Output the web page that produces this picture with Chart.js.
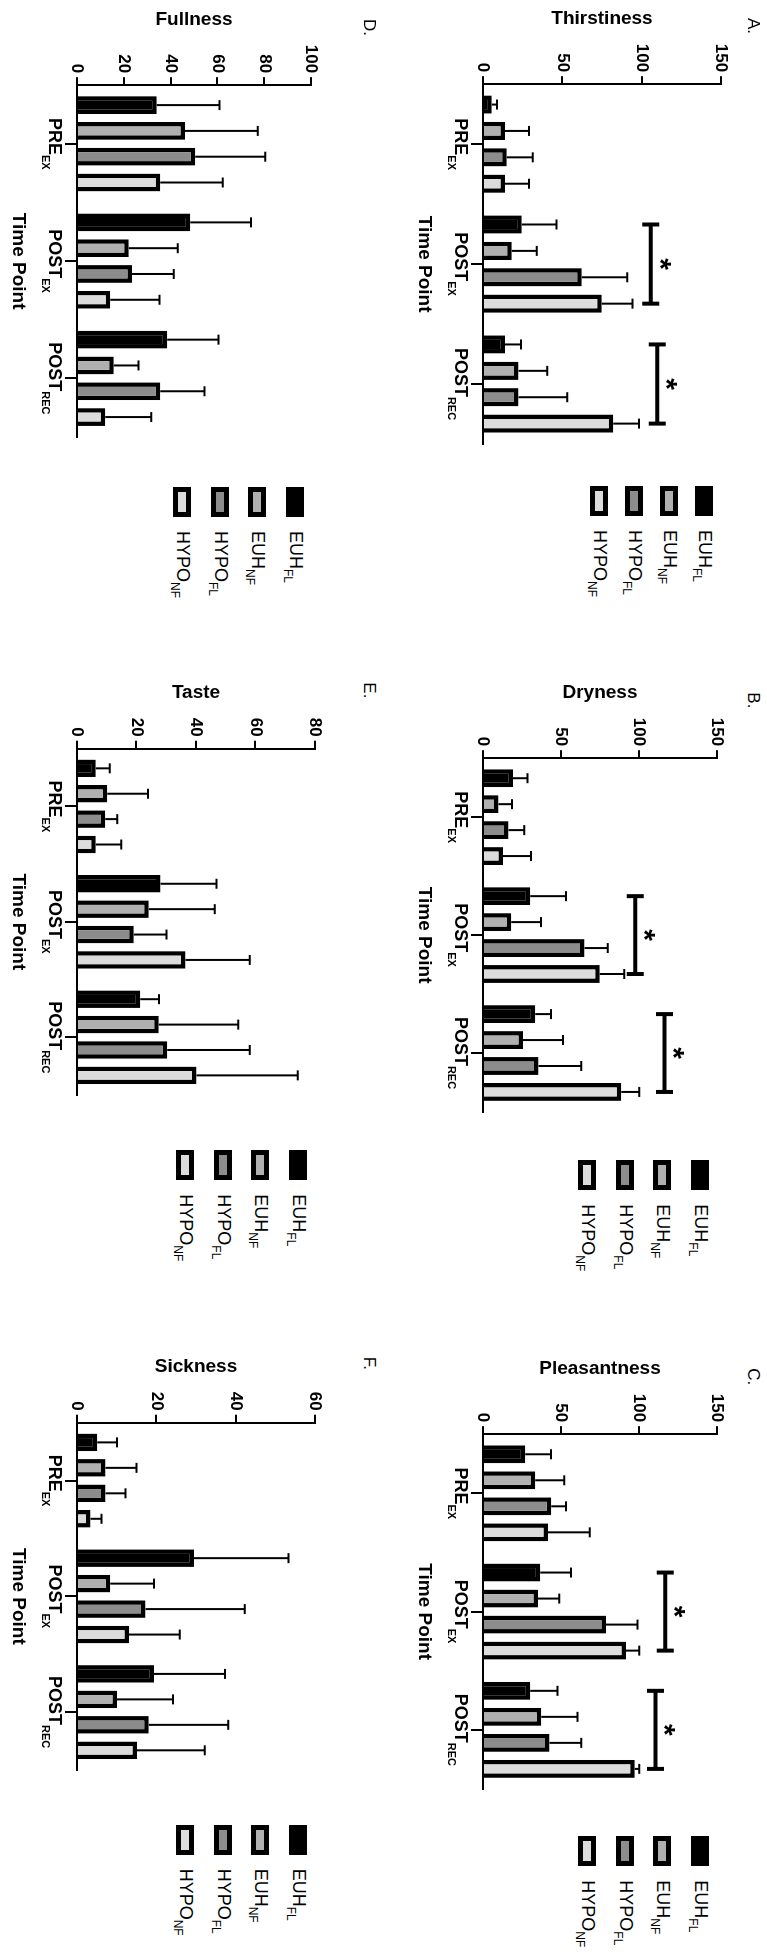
<!DOCTYPE html>
<html>
<head>
<meta charset="utf-8">
<script src="https://cdn.jsdelivr.net/npm/chart.js@4.4.0/dist/chart.umd.min.js"></script>
<style>
html, body { margin: 0; padding: 0; width: 767px; height: 1959px; overflow: hidden; background: #fff; }
#figure {
    position: absolute; left: 0; top: 0; width: 1959px; height: 767px;
    transform-origin: 0 0; transform: translate(767px, 0) rotate(90deg);
    font-family: 'Liberation Sans', Arial, Helvetica, sans-serif; color: #000;
}
#figure canvas { position: absolute; }
.legend { position: absolute; }
.legend .item { display: flex; align-items: center; }
.legend .swatch { width: 30px; height: 18px; border: 5px solid #000; box-sizing: border-box; margin-right: 14px; flex: none; }
.legend .label { font-size: 18px; line-height: 18px; white-space: nowrap; }
.legend .label span { font-size: 12px; position: relative; top: 6px; }
.letter { position: absolute; font-size: 17px; line-height: 17px; }
</style>
</head>
<body>
<div id="figure"></div>
<script>
// groups (bar series) and time points (categories)
const groupMain = ['EUH', 'EUH', 'HYPO', 'HYPO'];
const groupSub = ['FL', 'NF', 'FL', 'NF'];
const groupColors = ['#000000', '#b0b0b0', '#8c8c8c', '#dcdcdc'];
const timeMain = ['PRE', 'POST', 'POST'];
const timeSub = ['EX', 'EX', 'REC'];

// mean per group (EUH_FL, EUH_NF, HYPO_FL, HYPO_NF) over PRE_EX, POST_EX, POST_REC
const thirstMean = [[5.5, 24.4, 13.9], [13.9, 18.1, 22.3], [15.0, 62.2, 22.3], [13.9, 74.8, 82.1]];
const thirstSd = [[3.4, 22.0, 10.0], [15.1, 15.7, 18.2], [16.3, 28.7, 30.8], [15.1, 19.5, 16.2]];
const thirstSig = [[1, 105.7], [2, 109.8]];

const drynessMean = [[19.2, 30.3, 33.5], [10.0, 18.1, 25.6], [16.4, 65.1, 35.6], [12.8, 74.8, 88.7]];
const drynessSd = [[9.4, 22.9, 10.1], [8.6, 19.1, 25.7], [10.1, 14.8, 27.4], [18.0, 15.8, 11.5]];
const drynessSig = [[1, 97.6], [2, 116.3]];

const pleasantMean = [[27.1, 36.7, 30.3], [33.5, 35.2, 37.4], [43.8, 78.8, 42.7], [41.7, 91.7, 97.2]];
const pleasantSd = [[16.5, 19.7, 17.5], [18.6, 13.7, 23.2], [9.4, 20.3, 20.3], [26.7, 8.5, 3.0]];
const pleasantSig = [[1, 116.9], [2, 110.5]];

const fullnessMean = [[34.1, 48.4, 38.6], [46.2, 22.1, 15.7], [50.5, 23.5, 35.6], [35.6, 14.2, 12.1]];
const fullnessSd = [[26.8, 26.0, 21.9], [31.0, 21.0, 10.6], [29.9, 17.8, 18.9], [26.7, 21.1, 19.6]];

const tasteMean = [[6.3, 28.1, 21.3], [10.2, 24.1, 27.5], [9.5, 19.1, 30.3], [6.3, 36.5, 40.2]];
const tasteSd = [[4.7, 18.8, 6.3], [13.7, 22.2, 26.7], [4.0, 11.0, 27.8], [8.6, 21.6, 34.0]];

const sickMean = [[5.1, 29.5, 19.4], [7.2, 8.4, 10.1], [7.2, 17.3, 18.1], [3.4, 13.1, 15.1]];
const sickSd = [[5.0, 23.8, 17.9], [7.8, 11.0, 14.1], [5.0, 25.0, 20.0], [2.8, 12.8, 17.1]];

// layout in the un-rotated figure (1959 x 767), the page shows it turned 90deg
const panels = [
    { letter: 'A.', title: 'Thirstiness', mean: thirstMean, sd: thirstSd, sig: thirstSig, max: 150, step: 50, axisX: 84, axisEnd: 443, zeroY: 284.3, topY: 46.3, rowTop: 0, legendRow: 35 },
    { letter: 'B.', title: 'Dryness', mean: drynessMean, sd: drynessSd, sig: drynessSig, max: 150, step: 50, axisX: 758.3, axisEnd: 1111.7, zeroY: 284.3, topY: 50.3, rowTop: 0, legendRow: 37.5 },
    { letter: 'C.', title: 'Pleasantness', mean: pleasantMean, sd: pleasantSd, sig: pleasantSig, max: 150, step: 50, axisX: 1434.3, axisEnd: 1788.3, zeroY: 284.3, topY: 50.3, rowTop: 0, legendRow: 37.5 },
    { letter: 'D.', title: 'Fullness', mean: fullnessMean, sd: fullnessSd, sig: [], max: 100, step: 20, axisX: 85, axisEnd: 436, zeroY: 689.7, topY: 455.3, rowTop: 383.5, legendRow: 37.5 },
    { letter: 'E.', title: 'Taste', mean: tasteMean, sd: tasteSd, sig: [], max: 80, step: 20, axisX: 748.3, axisEnd: 1094, zeroY: 689.7, topY: 452, rowTop: 383.5, legendRow: 37.5 },
    { letter: 'F.', title: 'Sickness', mean: sickMean, sd: sickSd, sig: [], max: 60, step: 20, axisX: 1422.7, axisEnd: 1769.3, zeroY: 689.7, topY: 452, rowTop: 383.5, legendRow: 37.5 }
];

const family = "'Liberation Sans', Arial, Helvetica, sans-serif";
Chart.defaults.font.family = family;
Chart.defaults.color = '#000';

// one-sided SD whiskers
const errorBars = {
    id: 'errorBars',
    afterDatasetsDraw(chart) {
        const ctx = chart.ctx, y = chart.scales.y;
        ctx.save();
        ctx.strokeStyle = '#000';
        ctx.lineWidth = 2;
        chart.data.datasets.forEach((ds, i) => {
            chart.getDatasetMeta(i).data.forEach((bar, j) => {
                const top = y.getPixelForValue(ds.data[j] + ds.sd[j]);
                ctx.beginPath();
                ctx.moveTo(bar.x, bar.y);
                ctx.lineTo(bar.x, top);
                ctx.moveTo(bar.x - 5, top);
                ctx.lineTo(bar.x + 5, top);
                ctx.stroke();
            });
        });
        ctx.restore();
    }
};

// significance brackets with asterisk
const sigBrackets = {
    id: 'sigBrackets',
    afterDraw(chart, args, opts) {
        const ctx = chart.ctx, y = chart.scales.y;
        const first = chart.getDatasetMeta(0).data;
        const last = chart.getDatasetMeta(3).data;
        ctx.save();
        ctx.strokeStyle = '#000';
        ctx.fillStyle = '#000';
        ctx.lineWidth = 4;
        (opts.marks || []).forEach(([idx, level]) => {
            const yy = y.getPixelForValue(level);
            const x1 = first[idx].x, x2 = last[idx].x;
            ctx.beginPath();
            ctx.moveTo(x1, yy); ctx.lineTo(x2, yy);
            ctx.moveTo(x1, yy - 8.5); ctx.lineTo(x1, yy + 8.5);
            ctx.moveTo(x2, yy - 8.5); ctx.lineTo(x2, yy + 8.5);
            ctx.stroke();
            ctx.font = 'bold 30px ' + family;
            ctx.textAlign = 'center';
            ctx.textBaseline = 'alphabetic';
            ctx.fillText('*', (x1 + x2) / 2, yy - 17 + 0.57 * 30);
        });
        ctx.restore();
    }
};

// category labels with subscripts
const timeLabels = {
    id: 'timeLabels',
    afterDraw(chart) {
        const ctx = chart.ctx, x = chart.scales.x, base = chart.chartArea.bottom;
        ctx.save();
        ctx.fillStyle = '#000';
        ctx.textAlign = 'left';
        ctx.textBaseline = 'alphabetic';
        timeMain.forEach((txt, i) => {
            const cx = x.getPixelForTick(i);
            ctx.font = 'bold 18px ' + family;
            const w1 = ctx.measureText(txt).width;
            ctx.font = 'bold 11px ' + family;
            const w2 = ctx.measureText(timeSub[i]).width;
            const left = cx - (w1 + w2) / 2;
            ctx.font = 'bold 18px ' + family;
            ctx.fillText(txt, left, base + 27.5);
            ctx.font = 'bold 11px ' + family;
            ctx.fillText(timeSub[i], left + w1, base + 35);
        });
        ctx.restore();
    }
};

const fig = document.getElementById('figure');

panels.forEach(p => {
    const plotW = p.axisEnd - p.axisX;
    const plotH = p.zeroY - p.topY;
    const padTop = 24, xH = 80;
    const H = Math.round(padTop + plotH + xH);

    const canvas = document.createElement('canvas');
    canvas.width = 600;
    canvas.height = H;
    fig.appendChild(canvas);

    const datasets = p.mean.map((vals, g) => ({
        label: groupMain[g] + groupSub[g],
        data: vals,
        sd: p.sd[g],
        backgroundColor: groupColors[g],
        borderColor: '#000',
        borderWidth: 4.5,
        categoryPercentage: 0.88,
        barPercentage: 0.69
    }));

    const chart = new Chart(canvas, {
        type: 'bar',
        data: {
            labels: timeMain.map((t, i) => t + timeSub[i]),
            datasets: datasets
        },
        options: {
            responsive: false,
            maintainAspectRatio: false,
            animation: false,
            layout: { padding: { top: padTop, right: 6, bottom: 0, left: 0 } },
            plugins: {
                legend: { display: false },
                tooltip: { enabled: false },
                sigBrackets: { marks: p.sig }
            },
            scales: {
                x: {
                    ticks: { display: false },
                    grid: { display: true, offset: false, drawOnChartArea: false, drawTicks: true, tickLength: 12, color: '#000', lineWidth: 2 },
                    border: { display: true, color: '#000', width: 2 },
                    title: { display: true, text: 'Time Point', font: { size: 19, weight: 'bold' }, padding: { top: 0, bottom: 10 } },
                    afterFit: s => { s.height = xH; }
                },
                y: {
                    min: 0,
                    max: p.max,
                    ticks: { stepSize: p.step, font: { size: 17, weight: 'bold' }, padding: 4 },
                    grid: { display: true, drawOnChartArea: false, drawTicks: true, tickLength: 8, color: '#000', lineWidth: 2 },
                    border: { display: true, color: '#000', width: 2 },
                    title: { display: true, text: p.title, font: { size: 19, weight: 'bold' }, padding: { top: 0, bottom: 10 } }
                }
            }
        },
        plugins: [errorBars, sigBrackets, timeLabels]
    });

    chart.resize(Math.ceil(chart.chartArea.left + plotW + 6), H);
    canvas.style.left = (p.axisX - chart.chartArea.left) + 'px';
    canvas.style.top = (p.zeroY - chart.chartArea.bottom) + 'px';

    // legend
    const legend = document.createElement('div');
    legend.className = 'legend';
    legend.style.left = (p.axisX + 402) + 'px';
    legend.style.top = (p.topY + 17 - p.legendRow / 2) + 'px';
    groupMain.forEach((m, g) => {
        const item = document.createElement('div');
        item.className = 'item';
        item.style.height = p.legendRow + 'px';
        const sw = document.createElement('div');
        sw.className = 'swatch';
        sw.style.background = groupColors[g];
        const lab = document.createElement('div');
        lab.className = 'label';
        lab.innerHTML = m + '<span>' + groupSub[g] + '</span>';
        item.appendChild(sw);
        item.appendChild(lab);
        legend.appendChild(item);
    });
    fig.appendChild(legend);

    const letter = document.createElement('div');
    letter.className = 'letter';
    letter.textContent = p.letter;
    letter.style.left = (p.axisX - 66) + 'px';
    letter.style.top = (p.rowTop + 5) + 'px';
    fig.appendChild(letter);
});
</script>
</body>
</html>
